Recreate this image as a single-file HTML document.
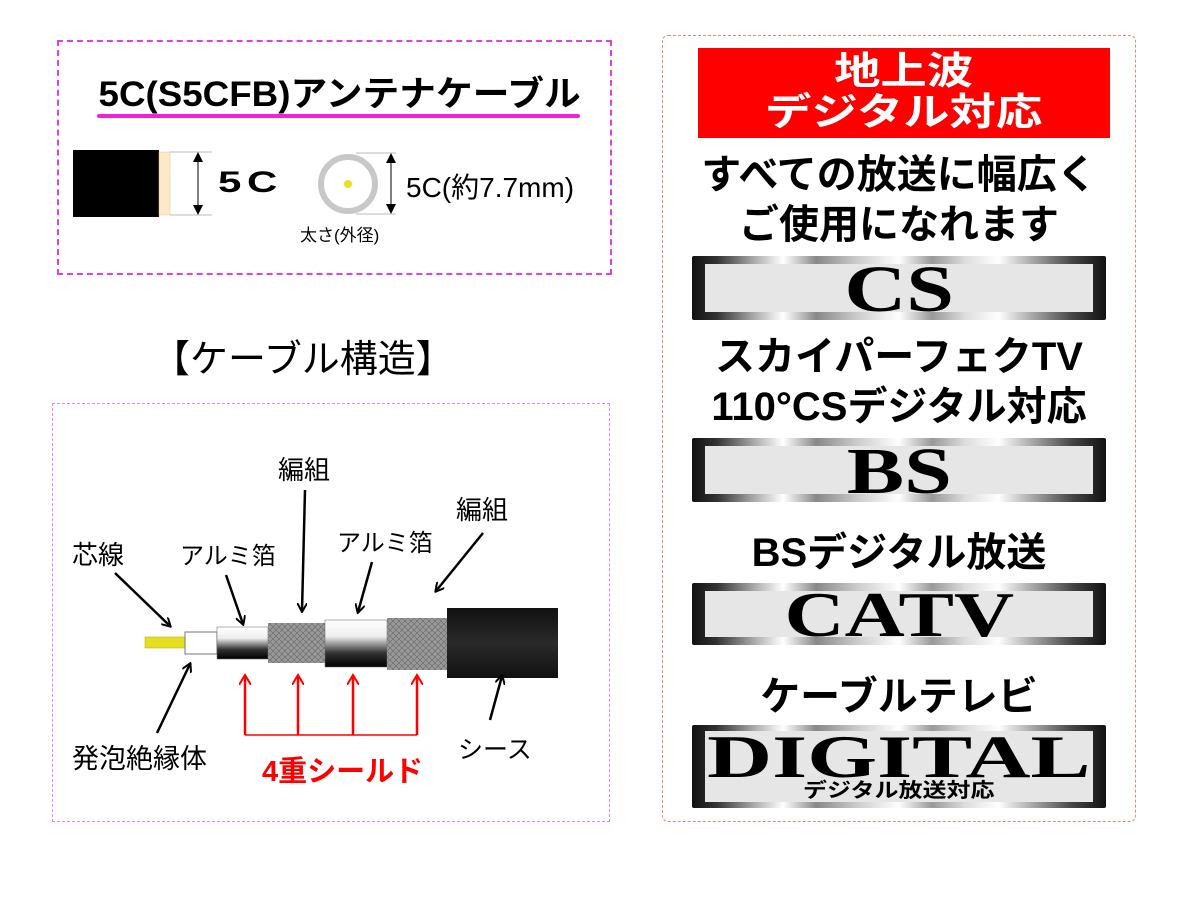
<!DOCTYPE html>
<html><head><meta charset="utf-8">
<style>
body{margin:0;width:1191px;height:907px;background:#fff;position:relative;overflow:hidden;font-family:"Liberation Sans","Noto Sans CJK JP",sans-serif;}
.a{position:absolute;}
.t{position:absolute;white-space:nowrap;}
.plate{position:absolute;left:692px;width:414px;border-radius:2px;
background:linear-gradient(90deg,#111 0%,#333 6%,#aaa 15%,#fff 22%,#888 30%,#ccc 40%,#fff 50%,#999 58%,#ddd 66%,#fff 74%,#aaa 82%,#444 92%,#111 100%);}
.plate .in{position:absolute;left:13px;right:13px;top:8px;bottom:8px;background:#e6e6e6;text-align:center;font-family:"Liberation Serif",serif;font-weight:bold;color:#000;overflow:hidden;}
.sx{display:inline-block;transform:scaleX(1.3);}
.big{font-weight:bold;font-size:40px;color:#000;text-align:center;width:474px;left:662px;}
.big span{display:inline-block;transform:scaleX(1.0);}
</style></head><body>
<div class="a" style="left:57px;top:40px;width:551px;height:231px;border:2px dashed #e040e0;"></div>
<div class="t" style="left:90px;top:66px;width:500px;text-align:center;font-size:35px;font-weight:bold;"><span style="display:inline-block;transform:scaleX(1.05);">5C(S5CFB)アンテナケーブル</span></div>
<div class="a" style="left:97px;top:114px;width:483px;height:4px;background:#f020e0;border-radius:2px;"></div>
<svg class="a" style="left:0;top:0" width="620" height="280">
<rect x="73" y="150" width="86" height="67" fill="#000"/>
<rect x="159" y="152" width="11" height="63" fill="#fbe9c8" stroke="#e8c890" stroke-width="0.5"/>
<line x1="170" y1="152" x2="212" y2="152" stroke="#bbb"/>
<line x1="170" y1="215" x2="212" y2="215" stroke="#bbb"/>
<line x1="198" y1="156" x2="198" y2="211" stroke="#000"/>
<polygon points="198,152 193,162 203,162"/><polygon points="198,215 193,205 203,205"/>
<circle cx="348" cy="184" r="27" fill="none" stroke="#c8c8c8" stroke-width="6"/>
<circle cx="348" cy="184" r="4" fill="#e8e020"/>
<line x1="356" y1="153" x2="396" y2="153" stroke="#bbb"/>
<line x1="356" y1="214" x2="396" y2="214" stroke="#bbb"/>
<line x1="391" y1="157" x2="391" y2="210" stroke="#000"/>
<polygon points="391,153 386,163 396,163"/><polygon points="391,214 386,204 396,204"/>
</svg>
<div class="t" style="left:218px;top:166px;font-size:30px;font-weight:900;letter-spacing:4px;transform:scaleX(1.4);transform-origin:left;">5C</div>
<div class="t" style="left:406px;top:166px;font-size:28px;">5C(約7.7mm)</div>
<div class="t" style="left:300px;top:221px;font-size:17px;">太さ(外径)</div>

<div class="t" style="left:152px;top:328px;font-size:38px;">【ケーブル構造】</div>

<div class="a" style="left:52px;top:403px;width:556px;height:417px;border:1px dashed #f080f0;"></div>
<svg class="a" style="left:0;top:0" width="620" height="830">
<defs>
<linearGradient id="foil" x1="0" y1="0" x2="0" y2="1"><stop offset="0" stop-color="#fff"/><stop offset="0.35" stop-color="#eee"/><stop offset="0.7" stop-color="#333"/><stop offset="1" stop-color="#000"/></linearGradient>
<linearGradient id="sh" x1="0" y1="0" x2="0" y2="1"><stop offset="0" stop-color="#111"/><stop offset="0.5" stop-color="#2a2a2a"/><stop offset="1" stop-color="#111"/></linearGradient>
<pattern id="br" width="6" height="6" patternUnits="userSpaceOnUse"><rect width="6" height="6" fill="#999"/><path d="M0 0L6 6M6 0L0 6" stroke="#666" stroke-width="0.6"/></pattern>
<marker id="ar" markerWidth="10" markerHeight="10" refX="8" refY="5" orient="auto" markerUnits="userSpaceOnUse"><path d="M0,0 L9,5 L0,10" fill="none" stroke="#000" stroke-width="2"/></marker>
<marker id="rr" markerWidth="12" markerHeight="12" refX="10" refY="6" orient="auto" markerUnits="userSpaceOnUse"><path d="M0,0 L10,6 L0,12" fill="none" stroke="#f00" stroke-width="2"/></marker>
</defs>
<rect x="145" y="637" width="40" height="11" fill="#e4e020" stroke="#aa0" stroke-width="0.5"/>
<rect x="185" y="632" width="32" height="22" fill="#fff" stroke="#777"/>
<rect x="217" y="627" width="51" height="32" fill="url(#foil)" stroke="#666" stroke-width="0.5"/>
<rect x="268" y="623" width="57" height="40" fill="url(#br)"/>
<rect x="325" y="620" width="62" height="47" fill="url(#foil)" stroke="#666" stroke-width="0.5"/>
<rect x="387" y="618" width="60" height="52" fill="url(#br)"/>
<rect x="447" y="608" width="111" height="70" fill="url(#sh)"/>
<g stroke="#000" stroke-width="2.5" marker-end="url(#ar)">
<line x1="115" y1="573" x2="170" y2="626"/>
<line x1="226" y1="575" x2="243" y2="624"/>
<line x1="305" y1="490" x2="302" y2="611"/>
<line x1="372" y1="562" x2="358" y2="612"/>
<line x1="483" y1="533" x2="436" y2="591"/>
<line x1="157" y1="733" x2="190" y2="664"/>
<line x1="490" y1="720" x2="502" y2="676"/>
</g>
<g stroke="#f00" stroke-width="2.5" marker-end="url(#rr)">
<line x1="245" y1="735" x2="245" y2="675"/>
<line x1="298" y1="735" x2="298" y2="675"/>
<line x1="353" y1="735" x2="353" y2="675"/>
<line x1="417" y1="735" x2="417" y2="675"/>
</g>
<line x1="245" y1="735" x2="417" y2="735" stroke="#f00" stroke-width="1.5"/>
</svg>
<div class="t" style="left:72px;top:535px;font-size:26px;">芯線</div>
<div class="t" style="left:180px;top:536px;font-size:24px;">アルミ箔</div>
<div class="t" style="left:278px;top:450px;font-size:26px;">編組</div>
<div class="t" style="left:337px;top:523px;font-size:24px;">アルミ箔</div>
<div class="t" style="left:456px;top:490px;font-size:26px;">編組</div>
<div class="t" style="left:72px;top:737px;font-size:27px;">発泡絶縁体</div>
<div class="t" style="left:458px;top:730px;font-size:25px;">シース</div>
<div class="t" style="left:262px;top:748px;font-size:29px;color:#f00;font-weight:bold;">4重シールド</div>

<div class="a" style="left:662px;top:35px;width:472px;height:785px;border:1px dashed #f08080;border-radius:6px;"></div>
<div class="a" style="left:698px;top:48px;width:412px;height:90px;background:#ff0000;color:#fff;font-weight:bold;font-size:38px;text-align:center;line-height:41px;padding-top:4px;box-sizing:border-box;"><span style="display:inline-block;transform:scaleX(1.22);">地上波<br>デジタル対応</span></div>
<div class="t big" style="top:150px;line-height:50px;"><span>すべての放送に幅広く<br>ご使用になれます</span></div>
<div class="plate" style="top:256px;height:64px;"><div class="in" style="font-size:66px;line-height:52px;"><span class="sx">CS</span></div></div>
<div class="t big" style="top:332px;line-height:50px;"><span>スカイパーフェクTV<br>110°CSデジタル対応</span></div>
<div class="plate" style="top:438px;height:64px;"><div class="in" style="font-size:66px;line-height:52px;"><span class="sx">BS</span></div></div>
<div class="t big" style="top:528px;line-height:50px;"><span>BSデジタル放送</span></div>
<div class="plate" style="top:583px;height:62px;"><div class="in" style="font-size:64px;line-height:48px;"><span class="sx">CATV</span></div></div>
<div class="t big" style="top:672px;line-height:50px;"><span>ケーブルテレビ</span></div>
<div class="plate" style="top:725px;height:83px;"><div class="in" style="top:6px;bottom:6px;"><div style="font-size:60px;line-height:52px;"><span style="display:inline-block;transform:scaleX(1.5);">DIGITAL</span></div><div style="font-family:'Liberation Sans','Noto Sans CJK JP',sans-serif;font-size:20px;line-height:16px;"><span style="display:inline-block;transform:scaleX(1.2);">デジタル放送対応</span></div></div></div>
</body></html>
